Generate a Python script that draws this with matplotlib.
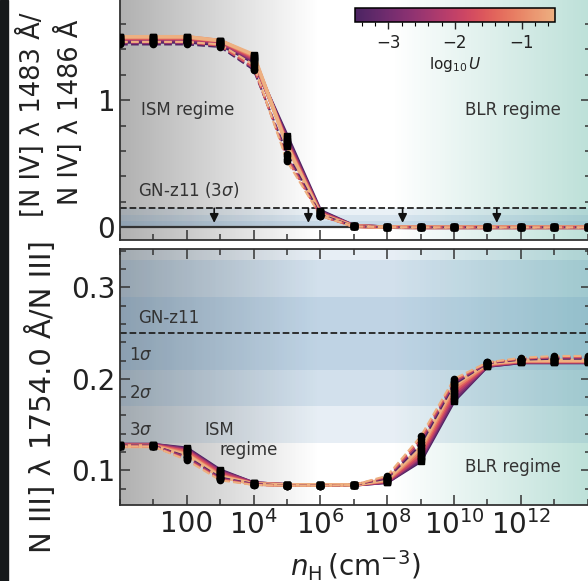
import numpy as np
import matplotlib
matplotlib.use("Agg")
import matplotlib.pyplot as plt
import matplotlib.colors as mcolors
from matplotlib.ticker import FixedLocator, FixedFormatter, MultipleLocator, NullFormatter
from matplotlib.patches import Rectangle
import seaborn as sns

plt.rcParams['font.family'] = ['DejaVu Sans']

# ---------------- data ----------------
n_H = [1e0, 1e1, 1e2, 1e3, 1e4, 1e5, 1e6, 1e7, 1e8, 1e9, 1e10, 1e11, 1e12, 1e13, 1e14]

logU_solid = [-3.5, -3.0, -2.5, -2.0, -1.5, -1.0, -0.5]
logU_dashed = [-3.5, -2.5, -1.5, -0.5]

# [N IV] 1483 / N IV] 1486 ratio
niv_solid = [
    [1.46, 1.46, 1.46, 1.44, 1.30, 0.72, 0.13, 0.012, 0.001, 0.0, 0.0, 0.0, 0.0, 0.0, 0.0],
    [1.47, 1.47, 1.47, 1.45, 1.31, 0.70, 0.12, 0.011, 0.001, 0.0, 0.0, 0.0, 0.0, 0.0, 0.0],
    [1.48, 1.48, 1.48, 1.46, 1.32, 0.68, 0.12, 0.010, 0.001, 0.0, 0.0, 0.0, 0.0, 0.0, 0.0],
    [1.49, 1.49, 1.49, 1.46, 1.33, 0.67, 0.11, 0.010, 0.001, 0.0, 0.0, 0.0, 0.0, 0.0, 0.0],
    [1.49, 1.49, 1.49, 1.47, 1.34, 0.66, 0.11, 0.009, 0.001, 0.0, 0.0, 0.0, 0.0, 0.0, 0.0],
    [1.50, 1.50, 1.50, 1.47, 1.35, 0.65, 0.10, 0.009, 0.001, 0.0, 0.0, 0.0, 0.0, 0.0, 0.0],
    [1.50, 1.50, 1.50, 1.47, 1.36, 0.64, 0.10, 0.008, 0.001, 0.0, 0.0, 0.0, 0.0, 0.0, 0.0],
]
niv_dashed = [
    [1.44, 1.44, 1.44, 1.42, 1.24, 0.58, 0.10, 0.008, 0.001, 0.0, 0.0, 0.0, 0.0, 0.0, 0.0],
    [1.45, 1.45, 1.45, 1.43, 1.25, 0.56, 0.09, 0.008, 0.001, 0.0, 0.0, 0.0, 0.0, 0.0, 0.0],
    [1.46, 1.46, 1.46, 1.43, 1.26, 0.54, 0.09, 0.007, 0.001, 0.0, 0.0, 0.0, 0.0, 0.0, 0.0],
    [1.46, 1.46, 1.46, 1.44, 1.28, 0.52, 0.09, 0.007, 0.001, 0.0, 0.0, 0.0, 0.0, 0.0, 0.0],
]

# N III] 1754 / N III] ratio
niii_solid = [
    [0.128, 0.128, 0.124, 0.100, 0.086, 0.084, 0.084, 0.084, 0.087, 0.110, 0.176, 0.214, 0.218, 0.218, 0.218],
    [0.128, 0.128, 0.123, 0.099, 0.086, 0.084, 0.084, 0.084, 0.087, 0.112, 0.178, 0.214, 0.218, 0.218, 0.218],
    [0.128, 0.128, 0.122, 0.098, 0.086, 0.084, 0.084, 0.084, 0.088, 0.114, 0.181, 0.215, 0.219, 0.219, 0.219],
    [0.127, 0.127, 0.121, 0.097, 0.085, 0.084, 0.084, 0.084, 0.088, 0.116, 0.184, 0.215, 0.219, 0.219, 0.219],
    [0.127, 0.127, 0.120, 0.095, 0.085, 0.084, 0.084, 0.084, 0.089, 0.119, 0.187, 0.216, 0.219, 0.219, 0.219],
    [0.127, 0.127, 0.118, 0.094, 0.085, 0.084, 0.084, 0.084, 0.089, 0.122, 0.190, 0.216, 0.220, 0.220, 0.220],
    [0.126, 0.126, 0.117, 0.093, 0.085, 0.084, 0.084, 0.084, 0.090, 0.125, 0.193, 0.217, 0.220, 0.220, 0.220],
]
niii_dashed = [
    [0.127, 0.127, 0.115, 0.092, 0.085, 0.083, 0.083, 0.084, 0.091, 0.128, 0.194, 0.217, 0.221, 0.222, 0.222],
    [0.127, 0.127, 0.114, 0.091, 0.085, 0.083, 0.083, 0.084, 0.092, 0.131, 0.196, 0.217, 0.222, 0.223, 0.223],
    [0.126, 0.126, 0.112, 0.090, 0.084, 0.083, 0.083, 0.084, 0.093, 0.134, 0.198, 0.218, 0.222, 0.224, 0.224],
    [0.126, 0.126, 0.111, 0.089, 0.084, 0.083, 0.083, 0.084, 0.094, 0.137, 0.200, 0.218, 0.223, 0.225, 0.225],
]

# GN-z11 observations
niv_limit_3sigma = 0.15
niv_limit_levels = [0.15, 0.10, 0.05]
niii_obs = 0.25
niii_sigma = 0.04

xtick_vals = [1e2, 1e4, 1e6, 1e8, 1e10, 1e12]
xtick_labels = ['100', r'$10^4$', r'$10^6$', r'$10^8$', r'$10^{10}$', r'$10^{12}$']
xminor_vals = [1e0, 1e1, 1e3, 1e5, 1e7, 1e9, 1e11, 1e13, 1e14]
cbar_ticks = [-3, -2, -1]

# ---------------- figure ----------------
W, H = 588, 581
fig = plt.figure(figsize=(W / 100, H / 100), dpi=100)
fig.patches.append(Rectangle((0, 0), 8 / W, 1, transform=fig.transFigure,
                             color='#16191b', zorder=0))

left = 120 / W
width = (591 - 120) / W
pos_top = [left, 1 - 240 / H, width, 254 / H]
pos_bot = [left, 1 - 505 / H, width, 256 / H]

# background gradients
f = np.linspace(0, 1, 600)
img = np.ones((1, f.size, 4))
grey_a = np.clip(0.58 * (1 - f / 0.42), 0, None)
teal_a = np.clip(0.40 * (f - 0.58) / 0.42, 0, None)
grey_c = np.array([0.47, 0.47, 0.47])
teal_c = np.array([0.35, 0.70, 0.62])
for i in range(f.size):
    if grey_a[i] > 0:
        img[0, i, :3] = grey_c
        img[0, i, 3] = grey_a[i]
    else:
        img[0, i, :3] = teal_c
        img[0, i, 3] = teal_a[i]

for pos in (pos_top, pos_bot):
    bg = fig.add_axes(pos, zorder=0)
    bg.imshow(img, extent=[0, 1, 0, 1], aspect='auto', interpolation='bilinear')
    bg.set_xlim(0, 1)
    bg.set_ylim(0, 1)
    bg.axis('off')

ax1 = fig.add_axes(pos_top, zorder=1)
ax2 = fig.add_axes(pos_bot, zorder=1)

cmap = sns.color_palette("flare_r", as_cmap=True)
norm = mcolors.Normalize(vmin=-3.5, vmax=-0.5)

band_col = '#4682b4'
txt_col = '#333333'

for ax in (ax1, ax2):
    ax.set_facecolor('none')
    ax.set_xscale('log')
    ax.set_xlim(1, 10 ** 14.1)
    ax.xaxis.set_major_locator(FixedLocator(xtick_vals))
    ax.xaxis.set_minor_locator(FixedLocator(xminor_vals))
    ax.xaxis.set_minor_formatter(NullFormatter())
    ax.tick_params(which='both', direction='in', top=True, right=True,
                   colors='#333333', labelcolor='#222222', width=1.1)
    ax.tick_params(which='major', length=7, labelsize=20)
    ax.tick_params(which='minor', length=4)
    for s in ax.spines.values():
        s.set_color('#333333')
        s.set_linewidth(1.3)

# ---- top panel ----
for lvl in niv_limit_levels:
    ax1.axhspan(0, lvl, color=band_col, alpha=0.11, lw=0, zorder=1)
ax1.axhline(niv_limit_3sigma, color='#222222', ls='--', lw=1.3, zorder=2)
ax1.axhline(0, color='#333333', lw=1.6, zorder=2)
for xf in [0.2, 0.4, 0.6, 0.8]:
    ax1.annotate('', xy=(xf, 0.035), xytext=(xf, niv_limit_3sigma),
                 xycoords=('axes fraction', 'data'), textcoords=('axes fraction', 'data'),
                 arrowprops=dict(arrowstyle='-|>', color='#111111', lw=1.2,
                                 mutation_scale=13, shrinkA=0, shrinkB=0), zorder=4)

for U, vals in zip(logU_solid, niv_solid):
    ax1.plot(n_H, vals, color=cmap(norm(U)), lw=2.6, zorder=3)
for U, vals in zip(logU_dashed, niv_dashed):
    ax1.plot(n_H, vals, color=cmap(norm(U)), lw=1.5, ls='--', zorder=3)
for vals in niv_dashed:
    ax1.plot(n_H, vals, 'o', color='k', ms=4.5, zorder=5)
for vals in niv_solid:
    ax1.plot(n_H, vals, 's', color='k', ms=4.5, zorder=5)

ax1.set_ylim(-0.1, 1.9)
ax1.yaxis.set_major_locator(FixedLocator([0, 1]))
ax1.yaxis.set_minor_locator(MultipleLocator(0.2))
ax1.tick_params(labelbottom=False)

ax1.text(4.2, 0.92, 'ISM regime', fontsize=12, color=txt_col, ha='left', va='center', zorder=6)
ax1.text(10 ** 10.33, 0.92, 'BLR regime', fontsize=12, color=txt_col, ha='left', va='center', zorder=6)
ax1.text(10 ** 0.54, 0.29, r'GN-z11 (3$\sigma$)', fontsize=12, color=txt_col, ha='left', va='center', zorder=6)

# ---- bottom panel ----
for k in (3, 2, 1):
    ax2.axhspan(niii_obs - k * niii_sigma, niii_obs + k * niii_sigma,
                color=band_col, alpha=0.13, lw=0, zorder=1)
ax2.axhline(niii_obs, color='#222222', ls='--', lw=1.3, zorder=2)

for U, vals in zip(logU_solid, niii_solid):
    ax2.plot(n_H, vals, color=cmap(norm(U)), lw=2.6, zorder=3)
for U, vals in zip(logU_dashed, niii_dashed):
    ax2.plot(n_H, vals, color=cmap(norm(U)), lw=1.5, ls='--', zorder=3)
for vals in niii_dashed:
    ax2.plot(n_H, vals, 'o', color='k', ms=4.5, zorder=5)
for vals in niii_solid:
    ax2.plot(n_H, vals, 's', color='k', ms=4.5, zorder=5)

ax2.set_ylim(0.062, 0.342)
ax2.yaxis.set_major_locator(FixedLocator([0.1, 0.2, 0.3]))
ax2.yaxis.set_minor_locator(MultipleLocator(0.02))
ax2.xaxis.set_major_formatter(FixedFormatter(xtick_labels))
ax2.set_xlabel(r'$n_{\rm H}\,(\rm cm^{-3})$', fontsize=20, color='#222222', labelpad=6)

ax2.text(10 ** 0.54, 0.266, 'GN-z11', fontsize=12, color=txt_col, ha='left', va='center', zorder=6)
ax2.text(10 ** 0.27, 0.226, r'1$\sigma$', fontsize=12, color=txt_col, ha='left', va='center', zorder=6)
ax2.text(10 ** 0.27, 0.185, r'2$\sigma$', fontsize=12, color=txt_col, ha='left', va='center', zorder=6)
ax2.text(10 ** 0.27, 0.144, r'3$\sigma$', fontsize=12, color=txt_col, ha='left', va='center', zorder=6)
ax2.text(10 ** 2.96, 0.144, 'ISM', fontsize=12, color=txt_col, ha='center', va='center', zorder=6)
ax2.text(10 ** 3.85, 0.122, 'regime', fontsize=12, color=txt_col, ha='center', va='center', zorder=6)
ax2.text(10 ** 10.33, 0.104, 'BLR regime', fontsize=12, color=txt_col, ha='left', va='center', zorder=6)

# y labels
fig.text(31 / W, 1 - 115 / H, '[N IV] λ 1483 Å/', rotation=90, ha='center', va='center',
         fontsize=18.5, color='#222222')
fig.text(69 / W, 1 - 112 / H, 'N IV] λ 1486 Å', rotation=90, ha='center', va='center',
         fontsize=18.5, color='#222222')
fig.text(42 / W, 1 - 397 / H, 'N III] λ 1754.0 Å/N III]', rotation=90, ha='center', va='center',
         fontsize=21, color='#222222')

# colorbar
cax = fig.add_axes([355 / W, 1 - 22 / H, 200 / W, 14 / H], zorder=3)
sm = matplotlib.cm.ScalarMappable(norm=norm, cmap=cmap)
cb = fig.colorbar(sm, cax=cax, orientation='horizontal')
cb.set_ticks(cbar_ticks)
cb.ax.xaxis.set_minor_locator(MultipleLocator(0.2))
cb.ax.tick_params(which='major', length=5, width=1, labelsize=12, colors='#222222')
cb.ax.tick_params(which='minor', length=3, width=0.8)
cb.outline.set_linewidth(1.1)
cb.set_label(r'$\log_{10}U$', fontsize=11, labelpad=2, color='#222222')

fig.savefig('out.png', dpi=100)
